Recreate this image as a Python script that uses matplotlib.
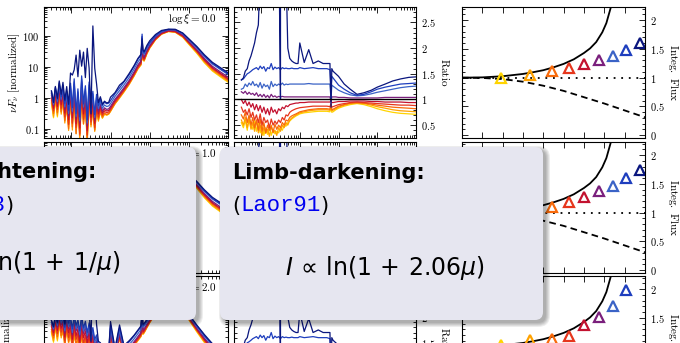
import numpy as np
import matplotlib
matplotlib.use("Agg")
import matplotlib.pyplot as plt
from matplotlib.patches import FancyBboxPatch
from matplotlib.ticker import LogLocator, MultipleLocator, NullFormatter

plt.rcParams['mathtext.fontset'] = 'cm'

W, H = 680, 343

# energy grid [keV]
energy = [0.031, 0.035, 0.039, 0.044, 0.049, 0.055, 0.061, 0.068, 0.076, 0.085,
          0.095, 0.106, 0.118, 0.132, 0.147, 0.164, 0.183, 0.204, 0.228, 0.254,
          0.284, 0.317, 0.354, 0.395, 0.44, 0.49, 0.55, 0.62, 0.70, 0.80,
          0.9, 1.0, 1.3, 1.7, 2.2, 3.0, 4.0, 5.0, 6.0, 6.4,
          6.7, 7.2, 8.5, 10, 14, 20, 30, 45, 70, 100,
          160, 250, 400, 650, 1000]

# reference (isotropic) spectra, nuFnu normalized
ref_xi0 = [1.2, 0.5, 1.5, 0.6, 2.0, 0.7, 1.6, 0.4, 1.0, 0.25,
           1.8, 0.3, 2.5, 0.2, 1.2, 0.15, 3.0, 0.4, 1.5, 0.12,
           2.0, 0.3, 1.0, 0.18, 0.8, 0.35, 0.6, 0.35, 0.45, 0.4,
           0.42, 0.5, 0.85, 1.3, 2.0, 3.5, 6.5, 11, 15, 95,
           22, 20, 33, 48, 85, 125, 150, 145, 105, 65,
           35, 18, 10, 6.5, 4.5]
ref_xi2 = [48, 29, 67, 36, 84, 43, 60, 24, 72, 34,
           53, 22, 62, 29, 43, 19, 58, 24, 38, 17,
           34, 14, 24, 10, 14, 7, 7, 5.3, 4.8, 4.3,
           4.3, 29, 4.8, 24, 6, 8.4, 13, 19, 26, 144,
           31, 34, 48, 67, 120, 190, 240, 215, 144, 84,
           36, 17, 8.4, 4.8, 2.9]

# ratio to the isotropic spectrum, one per inclination (low -> high)
ratio_yellow = [0.55, 0.45, 0.6, 0.4, 0.65, 0.5, 0.42, 0.6, 0.38, 0.55,
                0.35, 0.5, 0.3, 0.45, 0.32, 0.5, 0.3, 0.42, 0.33, 0.38,
                0.35, 0.45, 0.4, 0.5, 0.48, 0.55, 0.58, 0.62, 0.65, 0.68,
                0.7, 0.72, 0.74, 0.75, 0.76, 0.77, 0.77, 0.77, 0.76, 0.85,
                0.75, 0.76, 0.8, 0.83, 0.87, 0.9, 0.92, 0.9, 0.86, 0.82,
                0.78, 0.75, 0.73, 0.72, 0.71]
ratio_orange = [0.6, 0.5, 0.65, 0.45, 0.6, 0.42, 0.55, 0.38, 0.6, 0.35,
                0.5, 0.3, 0.45, 0.34, 0.42, 0.28, 0.5, 0.35, 0.4, 0.3,
                0.45, 0.38, 0.5, 0.45, 0.55, 0.5, 0.6, 0.64, 0.67, 0.7,
                0.72, 0.74, 0.76, 0.78, 0.79, 0.8, 0.8, 0.8, 0.79, 0.88,
                0.78, 0.79, 0.82, 0.85, 0.89, 0.92, 0.93, 0.92, 0.89, 0.86,
                0.83, 0.8, 0.78, 0.77, 0.76]
ratio_darkorange = [0.7, 0.62, 0.75, 0.55, 0.7, 0.5, 0.65, 0.45, 0.6, 0.4,
                    0.62, 0.38, 0.55, 0.35, 0.5, 0.4, 0.48, 0.36, 0.52, 0.42,
                    0.5, 0.45, 0.55, 0.5, 0.6, 0.58, 0.65, 0.68, 0.7, 0.72,
                    0.74, 0.76, 0.78, 0.8, 0.81, 0.82, 0.82, 0.82, 0.81, 0.9,
                    0.8, 0.81, 0.84, 0.87, 0.9, 0.93, 0.94, 0.93, 0.91, 0.89,
                    0.87, 0.85, 0.84, 0.83, 0.82]
ratio_red = [0.85, 0.75, 0.8, 0.7, 0.82, 0.65, 0.75, 0.6, 0.7, 0.55,
             0.72, 0.5, 0.65, 0.55, 0.6, 0.45, 0.62, 0.5, 0.58, 0.52,
             0.6, 0.55, 0.65, 0.6, 0.7, 0.68, 0.75, 0.78, 0.8, 0.82,
             0.83, 0.84, 0.85, 0.86, 0.87, 0.87, 0.87, 0.87, 0.86, 0.92,
             0.85, 0.86, 0.88, 0.9, 0.92, 0.94, 0.95, 0.94, 0.93, 0.92,
             0.91, 0.9, 0.89, 0.89, 0.88]
ratio_crimson = [1.0, 0.92, 0.98, 0.88, 0.95, 0.85, 0.92, 0.8, 0.9, 0.78,
                 0.88, 0.75, 0.85, 0.72, 0.82, 0.7, 0.85, 0.75, 0.8, 0.72,
                 0.82, 0.78, 0.85, 0.82, 0.88, 0.86, 0.9, 0.91, 0.92, 0.93,
                 0.93, 0.94, 0.94, 0.95, 0.95, 0.95, 0.95, 0.95, 0.95, 0.97,
                 0.94, 0.94, 0.95, 0.96, 0.96, 0.97, 0.97, 0.97, 0.96, 0.96,
                 0.95, 0.95, 0.95, 0.94, 0.94]
ratio_purple = [1.15, 1.12, 1.16, 1.1, 1.14, 1.1, 1.12, 1.08, 1.13, 1.06,
                1.1, 1.05, 1.1, 1.04, 1.08, 1.03, 1.1, 1.05, 1.07, 1.04,
                1.06, 1.05, 1.06, 1.05, 1.05, 1.05, 1.05, 1.05, 1.05, 1.05,
                1.05, 1.05, 1.05, 1.05, 1.05, 1.05, 1.05, 1.05, 1.05, 0.97,
                1.05, 1.05, 1.05, 1.04, 1.04, 1.03, 1.03, 1.03, 1.03, 1.03,
                1.04, 1.04, 1.04, 1.04, 1.04]
ratio_lightblue = [1.2, 1.22, 1.3, 1.25, 1.32, 1.28, 1.35, 1.27, 1.3, 1.24,
                   1.33, 1.22, 1.3, 1.25, 1.28, 1.2, 1.35, 1.25, 1.3, 1.27,
                   1.3, 1.28, 1.32, 1.28, 1.3, 1.29, 1.3, 1.3, 1.3, 1.3,
                   1.3, 1.3, 1.3, 1.31, 1.3, 1.3, 1.3, 1.3, 1.3, 1.0,
                   1.28, 1.26, 1.22, 1.18, 1.13, 1.09, 1.07, 1.08, 1.11, 1.14,
                   1.17, 1.2, 1.23, 1.25, 1.26]
ratio_blue = [1.38, 1.4, 1.45, 1.5, 1.52, 1.55, 1.58, 1.6, 1.62, 1.58,
              1.65, 1.6, 1.64, 1.55, 1.62, 1.6, 1.7, 1.58, 1.63, 1.6,
              1.62, 1.58, 1.62, 1.6, 1.61, 1.6, 1.6, 1.61, 1.6, 1.6,
              1.6, 1.62, 1.6, 1.61, 1.62, 1.6, 1.6, 1.6, 1.58, 1.2,
              1.45, 1.42, 1.35, 1.28, 1.2, 1.13, 1.08, 1.1, 1.15, 1.2,
              1.24, 1.27, 1.3, 1.31, 1.32]
ratio_navy = [1.38, 1.42, 1.55, 1.6, 1.75, 1.85, 1.97, 2.1, 2.3, 2.45,
              3.5, 18, 3.2, 120, 4.0, 230, 3.5, 75, 3.0, 330,
              4.5, 1.0, 210, 50, 3.5, 2.0, 1.8, 1.75, 1.72, 1.7,
              1.7, 2.1, 1.72, 1.97, 1.7, 1.75, 1.7, 1.7, 1.7, 0.85,
              1.6, 1.55, 1.5, 1.45, 1.3, 1.2, 1.1, 1.13, 1.18, 1.24,
              1.3, 1.36, 1.4, 1.43, 1.44]

ratios = [ratio_yellow, ratio_orange, ratio_darkorange, ratio_red, ratio_crimson,
          ratio_purple, ratio_lightblue, ratio_blue, ratio_navy]
colors = ['#FFD400', '#FFA200', '#F86A0A', '#E6361C', '#C3122F',
          '#7A1F7C', '#3B63C6', '#1E3EBE', '#0A167E']

# inclination [deg] and integrated flux per row
incl = [19.2, 33.5, 44.3, 52.7, 60.0, 67.5, 74.4, 80.8, 87.7]
flux_xi0 = [1.0, 1.05, 1.11, 1.16, 1.23, 1.30, 1.38, 1.48, 1.60]
flux_xi1 = [1.0, 1.04, 1.10, 1.18, 1.28, 1.37, 1.47, 1.60, 1.75]
flux_xi2 = [1.03, 1.12, 1.14, 1.18, 1.37, 1.51, 1.70, 1.98, 2.40]

# analytic laws
law_angle = [0, 10, 20, 30, 35, 40, 45, 50, 55, 60, 63, 66, 69, 71, 73, 75]
law_bright = [1.0, 1.005, 1.025, 1.065, 1.095, 1.13, 1.18, 1.24, 1.32, 1.43,
              1.51, 1.62, 1.79, 1.95, 2.2, 2.5]
dark_angle = [0, 10, 20, 30, 40, 50, 60, 70, 80, 90]
law_dark = [1.0, 0.995, 0.975, 0.93, 0.86, 0.77, 0.66, 0.55, 0.43, 0.31]

xi_labels = ['0.0', '1.0', '2.0']
refs = [ref_xi0, ref_xi0, ref_xi2]
fluxes = [flux_xi0, flux_xi1, flux_xi2]
sed_ylims = [(0.05, 860), (0.05, 860), (0.106, 1800)]
sed_yticks = [[0.1, 1, 10, 100], [0.1, 1, 10, 100], [1, 10, 100, 1000]]
sed_yticklabels = [['$0.1$', '$1$', '$10$', '$100$'], ['$0.1$', '$1$', '$10$', '$100$'],
                   ['$1$', '$10$', '$100$', '$1000$']]
sed_ylabel_x = [-0.16, -0.16, -0.2]

fig = plt.figure(figsize=(W / 100, H / 100), dpi=100)
fig.patch.set_facecolor('white')


def px_rect(left, top, w, h):
    return [left / W, 1 - (top + h) / H, w / W, h / H]


def style(ax):
    ax.tick_params(which='both', direction='in', top=True, right=True,
                   labelsize=7.5, width=0.6)
    ax.tick_params(which='major', length=4)
    ax.tick_params(which='minor', length=2)
    for s in ax.spines.values():
        s.set_linewidth(0.8)


row_tops = [7, 142, 276]
row_h = 131

for r in range(3):
    top = row_tops[r]
    ref = np.array(refs[r])

    # SED panel
    ax = fig.add_axes(px_rect(44, top, 184, row_h))
    style(ax)
    for ratio, c in zip(ratios, colors):
        ax.plot(energy, ref * np.array(ratio), color=c, lw=0.9)
    ax.set_xscale('log')
    ax.set_yscale('log')
    ax.set_xlim(0.02, 1000)
    ax.set_ylim(*sed_ylims[r])
    ax.xaxis.set_minor_locator(LogLocator(base=10, subs=np.arange(2, 10), numticks=20))
    ax.xaxis.set_minor_formatter(NullFormatter())
    ax.set_yticks(sed_yticks[r], labels=sed_yticklabels[r])
    ax.yaxis.set_minor_locator(LogLocator(base=10, subs=np.arange(2, 10), numticks=20))
    ax.yaxis.set_minor_formatter(NullFormatter())
    ax.tick_params(labelbottom=False)
    ax.text(0.94, 0.885, r'$\log\xi = %s$' % xi_labels[r], transform=ax.transAxes,
            ha='right', va='baseline', fontsize=8)
    ax.text(sed_ylabel_x[r], 0.5, r'$\nu F_\nu\ [\mathrm{normalized}]$', transform=ax.transAxes,
            rotation=90, ha='center', va='center', fontsize=8)

    # ratio panel
    ax = fig.add_axes(px_rect(234, top, 182, row_h))
    style(ax)
    for ratio, c in zip(ratios, colors):
        ax.plot(energy, ratio, color=c, lw=0.9)
    ax.axhline(1.0, color='black', lw=1.0, zorder=3)
    ax.set_xscale('log')
    ax.set_xlim(0.02, 1000)
    ax.set_ylim(0.25, 2.8)
    ax.xaxis.set_minor_locator(LogLocator(base=10, subs=np.arange(2, 10), numticks=20))
    ax.xaxis.set_minor_formatter(NullFormatter())
    ax.set_yticks([0.5, 1, 1.5, 2, 2.5], labels=['$0.5$', '$1$', '$1.5$', '$2$', '$2.5$'])
    ax.yaxis.set_minor_locator(MultipleLocator(0.1))
    ax.tick_params(labelbottom=False, labelleft=False, labelright=True)
    ax.text(1.16, 0.5, r'$\mathrm{Ratio}$', transform=ax.transAxes,
            rotation=270, ha='center', va='center', fontsize=8)

    # integrated flux panel
    ax = fig.add_axes(px_rect(462, top, 183, row_h))
    style(ax)
    ax.plot(law_angle, law_bright, color='black', lw=1.3)
    ax.plot(dark_angle, law_dark, color='black', lw=1.3, ls=(0, (3.7, 2.4)))
    ax.axhline(1.0, color='black', lw=1.3, ls=(0, (1, 3.2)))
    for a, f, c in zip(incl, fluxes[r], colors):
        ax.plot(a, f, marker='^', ms=6.5, mfc='none', mec=c, mew=1.6, ls='none')
    ax.set_xlim(0, 90)
    ax.set_ylim(-0.05, 2.23)
    ax.set_xticks(range(0, 91, 10))
    ax.set_yticks([0, 0.5, 1, 1.5, 2], labels=['$0$', '$0.5$', '$1$', '$1.5$', '$2$'])
    ax.yaxis.set_minor_locator(MultipleLocator(0.1))
    ax.tick_params(labelbottom=False, labelleft=False, labelright=True)
    ax.text(1.155, 0.5, r'$\mathrm{Integ.\ Flux}$', transform=ax.transAxes,
            rotation=270, ha='center', va='center', fontsize=8)

# overlay with the two slide boxes, in pixel coordinates
ov = fig.add_axes([0, 0, 1, 1], zorder=10)
ov.set_xlim(0, W)
ov.set_ylim(H, 0)
ov.axis('off')

box_fill = '#E6E6F0'
for x0, x1 in [(-20, 196), (220, 543)]:
    y0, y1 = 147, 320
    for g in range(5):
        ov.add_patch(FancyBboxPatch((x0 + 3 - g, y0 + 3 - g), x1 - x0 + 2 * g, y1 - y0 + 2 * g,
                                    boxstyle='round,pad=0,rounding_size=%g' % (8 + g),
                                    fc='black', ec='none', alpha=0.07))
    ov.add_patch(FancyBboxPatch((x0, y0), x1 - x0, y1 - y0,
                                boxstyle='round,pad=0,rounding_size=8',
                                fc=box_fill, ec='none'))

mono = 'Liberation Mono'
blue = '#0000F0'

# left box (cut by the slide edge)
ov.text(96, 178, 'Limb-brightening:', ha='right', va='baseline', fontsize=15, weight='bold')
p = ov.text(13, 212, ')', ha='right', va='baseline', fontsize=15)
p = ov.annotate('Haardt93', xy=(0, 0), xycoords=p, ha='right', va='bottom',
                fontsize=16, family=mono, color=blue)
ov.annotate('(', xy=(0, 0), xycoords=p, ha='right', va='bottom', fontsize=15)
ov.text(120, 270, r'$I\,\propto\,\mathrm{ln}(1\,+\,1/\mu)$', ha='right', va='baseline',
        fontsize=17, math_fontfamily='dejavusans')

# right box
ov.text(232, 179, 'Limb-darkening:', ha='left', va='baseline', fontsize=15, weight='bold')
p = ov.text(232, 212, '(', ha='left', va='baseline', fontsize=15)
p = ov.annotate('Laor91', xy=(1, 0), xycoords=p, ha='left', va='bottom',
                fontsize=16, family=mono, color=blue)
ov.annotate(')', xy=(1, 0), xycoords=p, ha='left', va='bottom', fontsize=15)
ov.text(285, 275, r'$I\,\propto\,\mathrm{ln}(1\,+\,2.06\mu)$', ha='left', va='baseline',
        fontsize=17, math_fontfamily='dejavusans')

fig.savefig('out.png', dpi=100)
